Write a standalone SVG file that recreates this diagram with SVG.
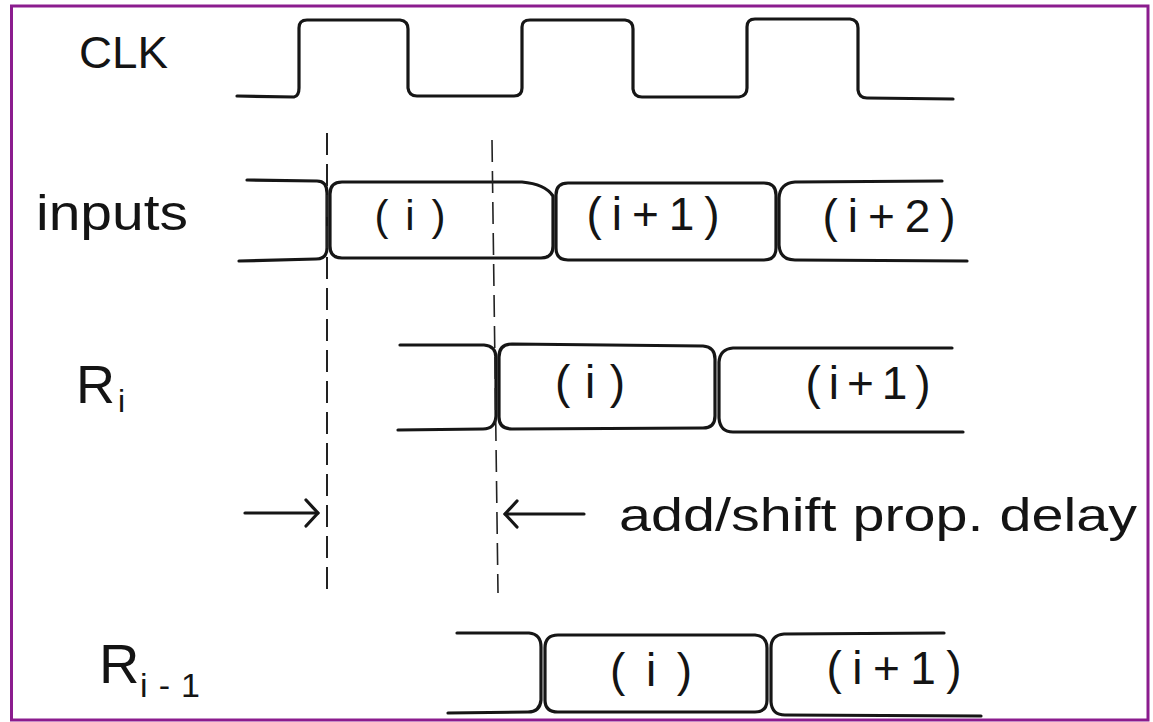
<svg xmlns="http://www.w3.org/2000/svg" width="1153" height="722" viewBox="0 0 1153 722">
<style>
.w{fill:none;stroke:#161616;stroke-width:3.2;stroke-linejoin:round;stroke-linecap:round}
.t{font-family:"Liberation Sans","DejaVu Sans",sans-serif;fill:#141414}
.v{text-anchor:middle}
.d{fill:none;stroke:#222;stroke-width:2;stroke-dasharray:22 9}
.a{fill:none;stroke:#161616;stroke-width:3.2;stroke-linecap:round}
</style>
<defs>
<marker id="head" markerUnits="userSpaceOnUse" viewBox="0 0 16 30" markerWidth="16" markerHeight="30" refX="14" refY="15" orient="auto" overflow="visible">
<path d="M2,2 L14,15 L2,28" fill="none" stroke="#161616" stroke-width="3.2" stroke-linecap="round" stroke-linejoin="round"/>
</marker>
</defs>
<rect x="11.5" y="6" width="1136.5" height="714" fill="#fff" stroke="#8B1C8E" stroke-width="3"/>

<g id="clk">
<text class="t" x="79" y="68" font-size="45" textLength="89" lengthAdjust="spacingAndGlyphs">CLK</text>
<path class="w" d="M237,96 L294,97 Q299,96 299,88 L299,28 Q299,20 307,20 L400,20 Q408,21 408,29 L408,88 Q409,96 417,96 L514,96 Q522,96 522,88 L522,27 Q522,20 530,20 L625,20 Q633,21 633,29 L633,89 Q634,97 642,97 L739,97 Q747,96 747,88 L747,27 Q747,19 755,19 L850,19 Q858,20 858,28 L858,90 Q859,98 867,98 L953,99"/>
</g>

<g id="inputs">
<text class="t" x="36" y="230" font-size="50" textLength="152" lengthAdjust="spacingAndGlyphs">inputs</text>
<path class="w" d="M247,180 L317,181 Q327,181 327,193 L327,248 Q327,259 316,259 L239,261"/>
<path class="w" d="M342,182 L522,182 Q545,184 553,196 L553,246 Q553,258 541,258 L342,258 Q330,258 330,246 L330,194 Q330,182 342,182 Z"/>
<path class="w" d="M568,183 L764,183 Q776,183 776,195 L776,248 Q776,260 764,260 L568,260 Q556,260 556,248 L556,195 Q556,183 568,183 Z"/>
<path class="w" d="M942,181 L795,182 Q780,183 779,198 L779,245 Q780,260 795,260 L967,261"/>
<text class="t v" x="410" y="230" font-size="42" textLength="71" lengthAdjust="spacing">(i)</text>
<text class="t v" x="653" y="230" font-size="46" textLength="133" lengthAdjust="spacing">(i+1)</text>
<text class="t v" x="889" y="232" font-size="46" textLength="133" lengthAdjust="spacing">(i+2)</text>
</g>

<g id="ri">
<text class="t" x="76" y="403" font-size="54">R<tspan x="118" y="412" font-size="32">i</tspan></text>
<path class="w" d="M400,345 L484,345 Q496,346 496,358 L496,416 Q495,429 483,429 L398,430"/>
<path class="w" d="M512,344 L703,346 Q715,347 715,359 L715,416 Q715,428 703,428 L512,429 Q499,429 499,417 L499,357 Q499,344 512,344 Z"/>
<path class="w" d="M952,348 L733,348 Q720,349 719,362 L719,418 Q720,432 733,432 L963,432"/>
<text class="t v" x="590" y="398" font-size="46" textLength="70" lengthAdjust="spacing">(i)</text>
<text class="t v" x="868" y="399" font-size="46" textLength="125" lengthAdjust="spacing">(i+1)</text>
</g>

<g id="ri-1">
<text class="t" x="99" y="683" font-size="56">R<tspan x="140" y="697" font-size="34" textLength="60" lengthAdjust="spacing">i-1</tspan></text>
<path class="w" d="M457,633 L529,633 Q541,634 541,647 L541,700 Q540,712 528,712 L448,713"/>
<path class="w" d="M558,635 L755,635 Q767,636 767,648 L767,700 Q767,712 755,712 L558,712 Q545,712 545,700 L545,648 Q545,635 558,635 Z"/>
<path class="w" d="M944,633 L784,634 Q771,635 771,648 L771,702 Q772,715 785,715 L981,716"/>
<text class="t v" x="651" y="686" font-size="46" textLength="82" lengthAdjust="spacing">(i)</text>
<text class="t v" x="894" y="684" font-size="46" textLength="135" lengthAdjust="spacing">(i+1)</text>
</g>

<g id="delay-label">
<text class="t" x="619" y="531" font-size="46" textLength="518" lengthAdjust="spacingAndGlyphs">add/shift prop. delay</text>
</g>

<g id="connectors">
<line class="d" x1="327" y1="133" x2="327" y2="590"/>
<line class="d" x1="492" y1="140" x2="498" y2="593" style="stroke-width:1.6"/>
<line class="a" x1="245" y1="513" x2="318" y2="513" marker-end="url(#head)"/>
<line class="a" x1="584" y1="514" x2="505" y2="514" marker-end="url(#head)"/>
</g>
</svg>
